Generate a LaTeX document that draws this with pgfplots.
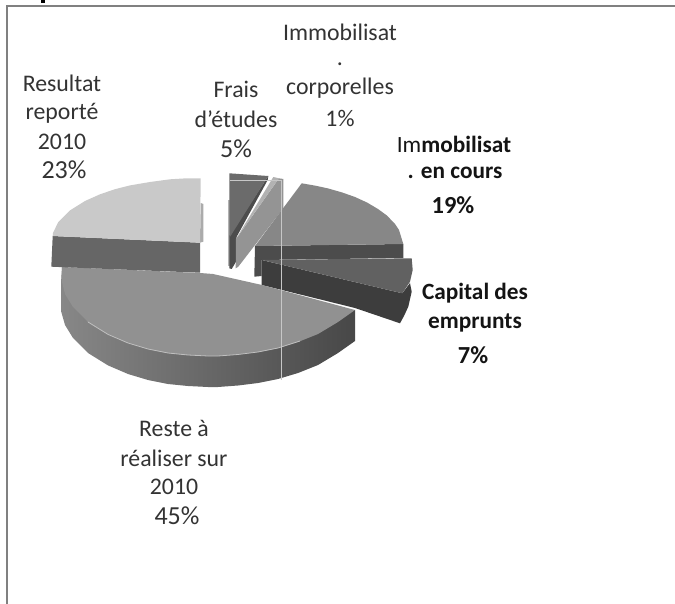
\documentclass[border=0pt]{standalone}
\usepackage{pgfplots}
\pgfplotsset{compat=1.18}
\usepackage{fontspec}
\setmainfont{Carlito}
\tikzset{
 lab/.style={align=center,text=black!80,font=\fontsize{23.8}{28}\selectfont,inner sep=0pt},
 labp/.style={align=center,text=black!80,font=\fontsize{26}{28}\selectfont,inner sep=0pt},
 labb/.style={align=center,text=black!92,font=\fontsize{23.3}{28}\selectfont\bfseries,inner sep=0pt},
 labbp/.style={align=center,text=black!92,font=\fontsize{24.5}{28}\selectfont\bfseries,inner sep=0pt}}
\begin{document}
\begin{tikzpicture}
\begin{axis}[scale only axis,width=675pt,height=604pt,xmin=0,xmax=675,ymin=0,ymax=604,y dir=reverse,hide axis,clip=true]
% page extent
\addplot[draw=none] coordinates {(0,0)(675,604)};
% title fragment
\addplot[draw=none,fill=black] coordinates {(41,0)(45,0)(45,3)(41,3)} -- cycle;
% frame
\addplot[draw=black!50,line width=2pt] coordinates {(6.5,604)(6.5,6.5)(675,6.5)};
% Frais d'etudes
\addplot[draw=none,fill=black!30] coordinates {(227.5,200)(229.5,200)(229.5,266)(227.5,266)} -- cycle;
\addplot[draw=none,fill=black!70] coordinates {(268.3,176)(267.7,180)(236.7,236.7)(236,261.7)(231.7,269)(229.3,268.3)(229.3,236)} -- cycle;
\addplot[draw=none,fill=black!58] coordinates {(229.3,173.3)(268.3,176)(229.3,238)} -- cycle;
% Immobilisat. corporelles
\addplot[draw=none,fill=black!42] coordinates {(279,178.3)(283.3,179)(283.3,208.3)(238.3,266.7)(235.7,268.3)(236,239)} -- cycle;
\addplot[draw=none,fill=black!30] coordinates {(273.3,177)(279,178.3)(236,239)} -- cycle;
% Immobilisat. en cours
\addplot[draw=none,fill=black!70] coordinates {(255,246)(403.3,244)(403.3,258)(261.7,260)(261.7,276)(254.3,276.7)} -- cycle;
\addplot[draw=none,fill=black!47] coordinates {(255,246)(301.7,183.3)(315,185.6)(328,188.4)(342,192.4)(355,197)(367,202.5)(378,209)(387,215.6)(395,224)(399,230)(403.3,244)} -- cycle;
% Capital des emprunts
\addplot[draw=none,fill=black!76] coordinates {(261.7,260)(402.3,293.3)(410,283)(411.7,291.7)(408.3,306.7)(404,316)(400,323.3)(355,308)(261.7,285)} -- cycle;
\addplot[draw=none,fill=black!62] coordinates {(261.7,260)(411.7,258.3)(412.7,270)(410,281.7)(402.3,293.3)} -- cycle;
% Reste a realiser
\addplot[draw=none,left color=black!47,middle color=black!56,right color=black!72] coordinates {(355,310)(355,341)(338,353)(318,365)(298,373)(278,379)(258,383)(238,385.5)(218,387)(208,387)(188,386)(168,384)(148,380)(128,374)(108,365.4)(88,353)(73,338)(65,325)(61,311)(61,283)(62,267)(88,322)} -- cycle;
\addplot[draw=none,fill=black!43] coordinates {(62,267)(200,273)(213,274)(262,285)(355,310)(338,322)(318,334)(298,342)(278,348)(258,352)(238,354.5)(218,356)(208,356)(188,355)(168,353)(148,349)(128,343)(108,334.4)(88,322)(73,307)(65,294)(61.5,280)} -- cycle;
\addplot[draw=black!25,line width=0.8pt] coordinates {(300,341)(278,348)(258,352)(238,354.5)(218,356)(208,356)(188,355)(168,353)(148,349)(128,343)(108,334.4)(88,322)};
% Resultat reporte
\addplot[draw=none,fill=black!33] coordinates {(200.7,203)(203.3,204)(203.3,241.7)(200,242.7)} -- cycle;
\addplot[draw=none,fill=black!60] coordinates {(52.7,236)(200,242.7)(200,272.7)(51.3,266.7)} -- cycle;
\addplot[draw=none,fill=black!21] coordinates {(200.7,178.3)(200,242.7)(52.7,236)(53,233)(58,222.5)(70,210.4)(85,201)(100,194.3)(115,189.2)(130,185.4)(150,182)(170,179.3)(185,178.4)} -- cycle;
% scan lines
\addplot[draw=black!22,line width=0.6pt] coordinates {(229.5,180.5)(281,180.5)(281,380)};
% labels
\node[lab] at (axis cs:340,32) {Immobilisat};
\node[lab] at (axis cs:340,64) {.};
\node[lab] at (axis cs:340,88) {corporelles};
\node[lab] at (axis cs:340,118) {1\%};
\node[lab] at (axis cs:62,83) {Resultat};
\node[lab] at (axis cs:62,113) {reporté};
\node[lab] at (axis cs:62,142) {2010};
\node[labp] at (axis cs:64,170) {23\%};
\node[lab] at (axis cs:236,89) {Frais};
\node[lab] at (axis cs:236,119) {d'études};
\node[labp] at (axis cs:236,149) {5\%};
\node[labb] at (axis cs:454,144) {{\mdseries Im}mobilisat};
\node[labb] at (axis cs:455,173) {. en cours};
\node[labbp] at (axis cs:453,205) {19\%};
\node[labb] at (axis cs:475,293) {Capital des};
\node[labb] at (axis cs:475,323) {emprunts};
\node[labbp] at (axis cs:473,355) {7\%};
\node[lab] at (axis cs:174,428) {Reste à};
\node[lab] at (axis cs:174,458) {réaliser sur};
\node[lab] at (axis cs:174,487) {2010};
\node[labp] at (axis cs:177,516) {45\%};
\end{axis}
\end{tikzpicture}
\end{document}
